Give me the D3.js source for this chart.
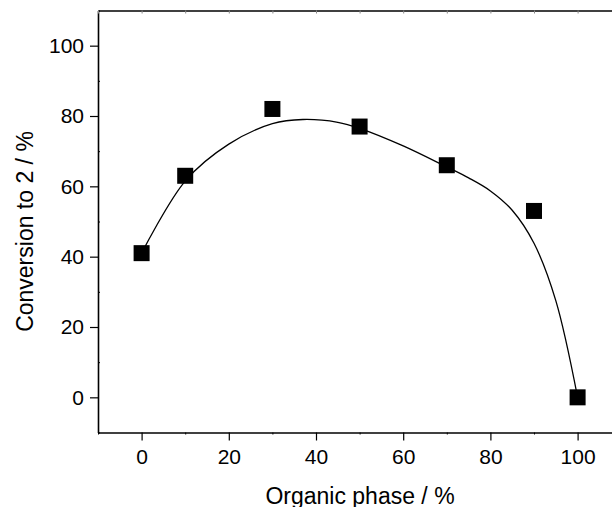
<!DOCTYPE html>
<html>
<head>
<meta charset="utf-8">
<script src="https://cdn.jsdelivr.net/npm/d3@7"></script>
<style>
  body { margin: 0; background: #fff; }
  text { font-family: "Liberation Sans", Arial, sans-serif; fill: #000; }
</style>
</head>
<body>
<div id="chart"></div>
<script>
// measured points
const organicPhase = [0, 10, 30, 50, 70, 90, 100];
const conversion = [41, 63, 82, 77, 66, 53, 0];

// fitted curve
const fitX = [0, 10, 20, 30, 37, 45, 50, 60, 70, 75, 80, 85, 90, 95, 100];
const fitY = [41, 61.5, 72, 77.8, 79, 78.2, 76.5, 71.5, 65.5, 62.4, 58.7, 53.2, 43.8, 27.5, 0];

const xTicks = [0, 20, 40, 60, 80, 100];
const yTicks = [0, 20, 40, 60, 80, 100];
const minorTicks = [-10, 10, 30, 50, 70, 90, 110];

const svgWidth = 612;
const svgHeight = 507;

const margin = { top: 10.5, left: 98 };
const plotW = 120 * 4.36;
const plotH = 422;

let svg = d3.select("#chart").append("svg")
    .attr("width", svgWidth)
    .attr("height", svgHeight);

let x = d3.scaleLinear().domain([-10, 110]).range([margin.left, margin.left + plotW]);
let y = d3.scaleLinear().domain([-10, 110]).range([margin.top + plotH, margin.top]);

// bottom axis
let xAxis = svg.append("g")
    .attr("transform", `translate(0,${y(-10)})`)
    .call(d3.axisBottom(x).tickValues(xTicks).tickSize(8).tickSizeOuter(0).tickPadding(9));
xAxis.select(".domain").attr("stroke-width", 1.6);
xAxis.selectAll(".tick line").attr("stroke-width", 1.2);
xAxis.selectAll("text").style("font-size", "21px");

svg.append("g")
    .attr("transform", `translate(0,${y(-10)})`)
    .call(d3.axisBottom(x).tickValues(minorTicks).tickSize(2).tickFormat(""))
    .call(g => g.select(".domain").remove());

// left axis
let yAxis = svg.append("g")
    .attr("transform", `translate(${x(-10)},0)`)
    .call(d3.axisLeft(y).tickValues(yTicks).tickSize(8).tickSizeOuter(0).tickPadding(6));
yAxis.select(".domain").attr("stroke-width", 1.6);
yAxis.selectAll(".tick line").attr("stroke-width", 1.2);
yAxis.selectAll("text").style("font-size", "21px");

svg.append("g")
    .attr("transform", `translate(${x(-10)},0)`)
    .call(d3.axisRight(y).tickValues(minorTicks).tickSize(2).tickFormat(""))
    .call(g => g.select(".domain").remove());

// top axis (mirror)
let topAxis = svg.append("g")
    .attr("transform", `translate(0,${y(110)})`)
    .call(d3.axisBottom(x).tickValues(d3.range(-10, 111, 10)).tickSize(3).tickSizeOuter(0).tickFormat(""));
topAxis.select(".domain").attr("stroke-width", 1.6);
topAxis.selectAll(".tick line").attr("stroke", "#888");

// fitted line
const fitData = fitX.map((v, i) => [v, fitY[i]]);
svg.append("path")
    .datum(fitData)
    .attr("fill", "none")
    .attr("stroke", "#000")
    .attr("stroke-width", 1.3)
    .attr("d", d3.line().x(d => x(d[0])).y(d => y(d[1])).curve(d3.curveCatmullRom.alpha(0.5)));

// squares
const sq = 16;
svg.append("g").selectAll("rect")
    .data(organicPhase)
    .enter()
    .append("rect")
        .attr("x", (d, i) => x(d) - sq / 2)
        .attr("y", (d, i) => y(conversion[i]) - sq / 2)
        .attr("width", sq)
        .attr("height", sq)
        .attr("fill", "#000");

// axis titles
svg.append("text")
    .attr("x", 360)
    .attr("y", 504)
    .attr("text-anchor", "middle")
    .style("font-size", "23px")
    .text("Organic phase / %");

svg.append("text")
    .attr("transform", "translate(33,231.5) rotate(-90)")
    .attr("text-anchor", "middle")
    .style("font-size", "23px")
    .text("Conversion to 2 / %");
</script>
</body>
</html>
